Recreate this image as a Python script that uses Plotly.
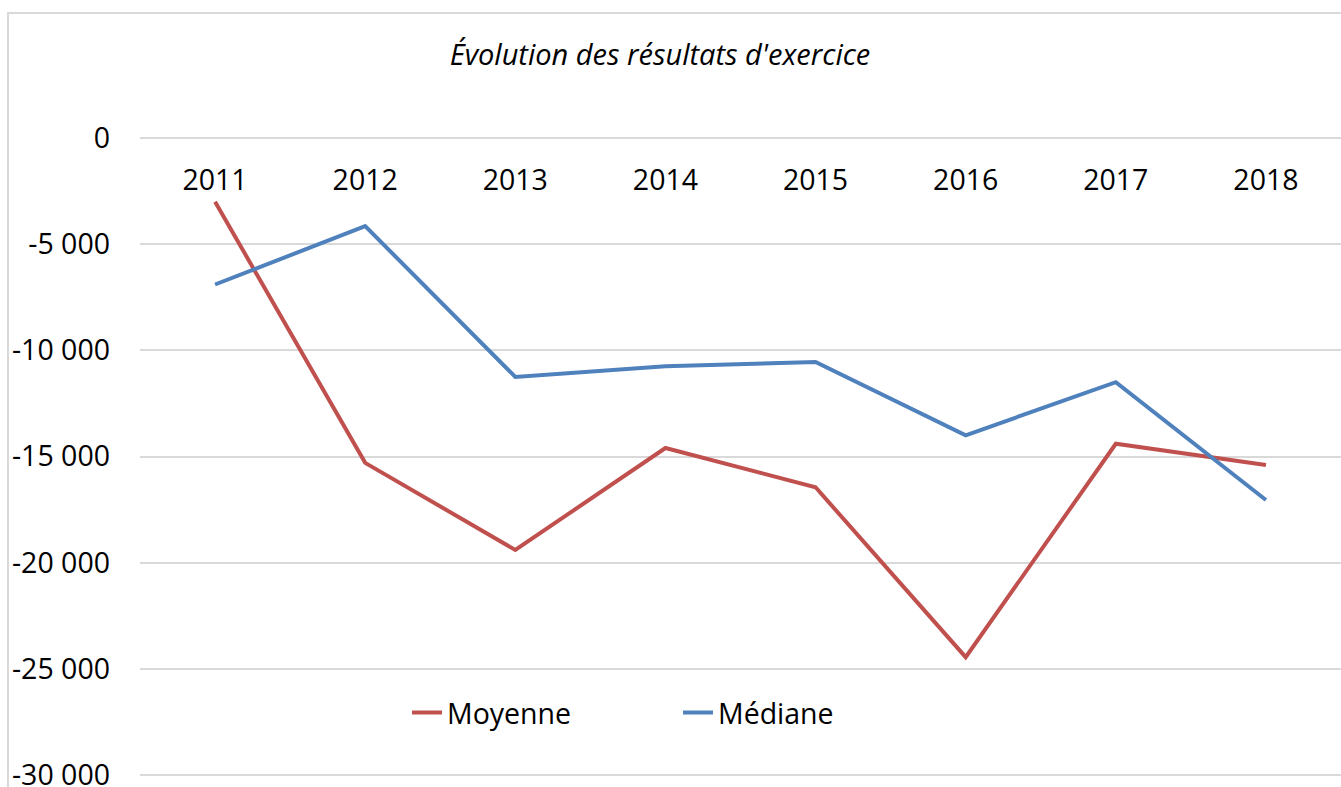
import plotly.graph_objects as go

years = ["2011", "2012", "2013", "2014", "2015", "2016", "2017", "2018"]
moyenne = [-3000, -15300, -19400, -14600, -16450, -24450, -14400, -15400]
mediane = [-6900, -4150, -11250, -10750, -10550, -14000, -11500, -17050]
y_ticks = [0, -5000, -10000, -15000, -20000, -25000, -30000]
y_tick_labels = ["0", "-5 000", "-10 000", "-15 000", "-20 000", "-25 000", "-30 000"]

FONT = "Open Sans"
FS = 28.5
W, H = 1341, 787
L, R, T, B = 140, 0, 138, 10
ph = H - T - B
pw = W - L - R

fig = go.Figure()
fig.add_trace(go.Scatter(x=years, y=moyenne, mode="lines", name="Moyenne",
                         line=dict(color="#C0504D", width=4)))
fig.add_trace(go.Scatter(x=years, y=mediane, mode="lines", name="Médiane",
                         line=dict(color="#4F81BD", width=4)))

fig.update_layout(
    width=W, height=H,
    margin=dict(l=L, r=R, t=T, b=B, pad=0, autoexpand=False),
    paper_bgcolor="white", plot_bgcolor="white",
    font=dict(family=FONT, size=FS, color="black"),
    title=dict(text="Évolution des résultats d'exercice", x=660 / W, xanchor="center",
               xref="container", y=1 - 55 / H, yanchor="middle",
               font=dict(family=FONT, size=29, color="black", style="italic")),
    showlegend=True,
    legend=dict(orientation="h", x=(407 - L) / pw, xanchor="left",
                y=(H - B - 713) / ph, yanchor="middle", entrywidth=226,
                font=dict(family=FONT, size=FS), bgcolor="rgba(0,0,0,0)"),
    xaxis=dict(type="category", range=[-0.5, 7.5], showgrid=False, zeroline=False,
               showline=False, ticks="", anchor="free", side="bottom", automargin=False,
               position=(H - B - 160) / ph, tickfont=dict(family=FONT, size=FS)),
    yaxis=dict(range=[-30094, 0], tickvals=y_ticks, ticktext=y_tick_labels,
               showgrid=True, gridcolor="#d9d9d9", gridwidth=2,
               zeroline=True, zerolinecolor="#d9d9d9", zerolinewidth=2,
               showline=False, ticks="", ticklabelstandoff=29, automargin=False,
               ticklabeloverflow="allow",
               tickfont=dict(family=FONT, size=FS)),
    shapes=[dict(type="rect", xref="paper", yref="paper",
                 x0=(8 - L) / pw, x1=1.2, y0=-0.5, y1=(H - B - 13) / ph,
                 line=dict(color="#d9d9d9", width=2), fillcolor="rgba(0,0,0,0)",
                 layer="below")],
)

fig.write_html("out.html", config={"displayModeBar": False},
               post_script="document.body.style.margin='0';document.body.style.overflow='hidden';")
